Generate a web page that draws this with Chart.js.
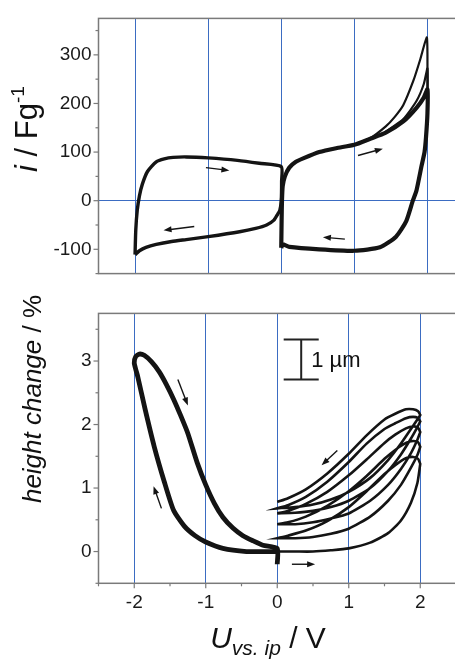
<!DOCTYPE html>
<html>
<head>
<meta charset="utf-8">
<script src="https://cdn.jsdelivr.net/npm/chart.js@4.4.0/dist/chart.umd.min.js"></script>
<style>
  html, body { margin: 0; padding: 0; background: #fff; overflow: hidden; width: 455px; height: 660px; }
  canvas { position: absolute; left: 0; }
  #topChart { top: 0; }
  #bottomChart { top: 295px; }
</style>
</head>
<body>
<canvas id="topChart" width="464" height="292"></canvas>
<canvas id="bottomChart" width="464" height="365"></canvas>
<script>
// axis ticks
const xTicks = [-2.5, -2, -1.5, -1, -0.5, 0, 0.5, 1, 1.5, 2, 2.5];
const topYTicks = [-150, -100, -50, 0, 50, 100, 150, 200, 250, 300, 350];
const bottomYTicks = [-0.5, 0, 0.5, 1, 1.5, 2, 2.5, 3, 3.5];

// top panel: cyclic voltammogram, i / F g^-1
const cvLeftV = [-2.0, -1.99, -1.97, -1.94, -1.90, -1.83, -1.71, -1.60, -1.48, -1.30, -1.00, -0.60, -0.30, 0.0, 0.005, 0.0, -0.02, -0.05, -0.10, -0.20, -0.35, -0.57, -1.00, -1.30, -1.50, -1.71, -1.85, -1.94, -2.0];
const cvLeftI = [-111, -60, -20, 10, 34, 60, 80, 86, 89, 90, 88, 83, 77, 70, 40, 0, -20, -28, -40, -50, -57, -64, -74, -80, -84, -90, -96, -103, -111];

const cvRightV = [0.0, 0.005, 0.01, 0.02, 0.05, 0.11, 0.20, 0.30, 0.52, 0.75, 1.0, 1.21, 1.43, 1.67, 1.85, 1.95, 2.0, 2.0, 1.98, 1.96, 1.92, 1.85, 1.80, 1.71, 1.57, 1.35, 1.0, 0.52, 0.11, 0.02, 0.0];
const cvRightI = [-97, -40, 0, 30, 50, 68, 80, 87, 100, 108, 115, 127, 140, 163, 191, 212, 229, 180, 130, 100, 72, 21, 0, -42, -74, -96, -103, -100, -95, -90, -97];

const cvPeakV = [1.0, 1.21, 1.43, 1.55, 1.67, 1.81, 1.9, 1.99, 2.0, 2.0];
const cvPeakI = [115, 128, 153, 172, 197, 248, 290, 336, 300, 200];
const cvPeak2V = [1.43, 1.67, 1.85, 1.95, 2.0, 2.0];
const cvPeak2I = [142, 168, 205, 240, 272, 200];

// bottom panel: height change / %
const hLeftV = [0.0, -0.2, -0.43, -0.76, -1.0, -1.15, -1.30, -1.45, -1.58, -1.72, -1.85, -1.95, -2.0, -1.98, -1.93, -1.86, -1.76, -1.65, -1.55, -1.45, -1.35, -1.25, -1.12, -1.0, -0.88, -0.76, -0.62, -0.48, -0.34, -0.2, 0.0, 0.0];
const hLeftH = [0.0, 0.0, 0.0, 0.05, 0.15, 0.25, 0.40, 0.65, 1.10, 1.65, 2.25, 2.75, 2.97, 3.07, 3.11, 3.09, 2.99, 2.83, 2.63, 2.40, 2.14, 1.86, 1.40, 1.05, 0.76, 0.54, 0.37, 0.25, 0.17, 0.10, 0.05, -0.2];

// right loops: each cycle goes out on the lower path and back on the upper path
const loopLowerV = [0, 0.25, 0.5, 0.75, 1.0, 1.3, 1.55, 1.73, 1.87, 1.96, 2.0];
const loopLowerH = [
  [0.00, 0.00, 0.00, 0.02, 0.05, 0.14, 0.29, 0.49, 0.77, 1.08, 1.38],
  [0.21, 0.21, 0.23, 0.28, 0.36, 0.55, 0.80, 1.05, 1.32, 1.52, 1.65],
  [0.43, 0.43, 0.46, 0.52, 0.60, 0.80, 1.05, 1.30, 1.55, 1.76, 1.88],
  [0.60, 0.61, 0.64, 0.70, 0.80, 1.00, 1.27, 1.53, 1.78, 1.96, 2.05],
  [0.68, 0.70, 0.74, 0.82, 0.94, 1.16, 1.44, 1.70, 1.93, 2.08, 2.15]
];
const loopUpperV = [2.0, 1.97, 1.9, 1.8, 1.65, 1.5, 1.25, 1.0, 0.7, 0.4, 0.15, 0];
const loopUpperH = [
  [1.38, 1.46, 1.49, 1.47, 1.36, 1.22, 0.95, 0.70, 0.48, 0.33, 0.25, 0.21],
  [1.65, 1.72, 1.74, 1.71, 1.60, 1.46, 1.19, 0.95, 0.72, 0.55, 0.46, 0.43],
  [1.88, 1.95, 1.97, 1.94, 1.84, 1.71, 1.45, 1.20, 0.94, 0.75, 0.64, 0.60],
  [2.05, 2.10, 2.12, 2.10, 2.02, 1.93, 1.70, 1.41, 1.10, 0.86, 0.73, 0.68],
  [2.15, 2.21, 2.24, 2.24, 2.17, 2.08, 1.83, 1.54, 1.23, 0.98, 0.84, 0.78]
];

// sweep direction arrows [x0, y0, x1, y1], head at the second point
const topArrows = [[-1.03, 68, -0.71, 62], [-1.19, -53, -1.61, -61], [1.05, 93, 1.39, 107], [0.87, -79, 0.57, -75]];
const bottomArrows = [[-1.39, 2.71, -1.25, 2.30], [-1.62, 0.68, -1.73, 1.03], [0.205, -0.2, 0.53, -0.2], [0.84, 1.59, 0.62, 1.36]];

// 1 um scale bar (x from, x to, top, bottom)
const scaleBarX = [0.09, 0.58];
const scaleBarH = [3.34, 2.71];
const scaleBarLabel = '1 \u00b5m';

const FONT = "'Liberation Sans', Arial, sans-serif";
const INK = '#141414';
const GRID = '#3b6cc2';
const AXIS = '#7a7a7a';

function pts(xs, ys) {
  return xs.map((x, i) => ({ x: x, y: ys[i] }));
}

function loopPoints() {
  let out = [];
  loopLowerH.forEach((low, k) => {
    out = out.concat(pts(loopLowerV, low), pts(loopUpperV, loopUpperH[k]));
  });
  return out;
}

function line(data, width) {
  return { data: data, showLine: true, borderColor: INK, borderWidth: width, pointRadius: 0, tension: 0.2, fill: false };
}

function drawArrow(ctx, x0, y0, x1, y1) {
  const ang = Math.atan2(y1 - y0, x1 - x0);
  ctx.beginPath();
  ctx.moveTo(x0, y0);
  ctx.lineTo(x1 - 5 * Math.cos(ang), y1 - 5 * Math.sin(ang));
  ctx.stroke();
  ctx.beginPath();
  ctx.moveTo(x1, y1);
  ctx.lineTo(x1 - 8 * Math.cos(ang) + 3 * Math.sin(ang), y1 - 8 * Math.sin(ang) - 3 * Math.cos(ang));
  ctx.lineTo(x1 - 8 * Math.cos(ang) - 3 * Math.sin(ang), y1 - 8 * Math.sin(ang) + 3 * Math.cos(ang));
  ctx.closePath();
  ctx.fill();
}

// text made of pieces with their own font and baseline shift
function drawRich(ctx, parts, x, y, rotate) {
  ctx.save();
  ctx.translate(x, y);
  if (rotate) ctx.rotate(-Math.PI / 2);
  let total = 0;
  parts.forEach(p => { ctx.font = p.font; total += ctx.measureText(p.text).width; });
  let cx = -total / 2;
  ctx.textBaseline = 'alphabetic';
  ctx.textAlign = 'left';
  ctx.fillStyle = '#111';
  parts.forEach(p => {
    ctx.font = p.font;
    ctx.fillText(p.text, cx, p.dy || 0);
    cx += ctx.measureText(p.text).width;
  });
  ctx.restore();
}

function framePlugin(opts) {
  return {
    id: 'frame',
    afterDatasetsDraw(chart) {
      const { ctx, chartArea: a, scales } = chart;
      ctx.save();
      ctx.strokeStyle = AXIS;
      ctx.lineWidth = 1.5;
      ctx.strokeRect(a.left, a.top, a.right - a.left, a.bottom - a.top);
      ctx.lineWidth = 1.2;
      scales.y.ticks.forEach(t => {
        const py = scales.y.getPixelForValue(t.value);
        const len = opts.majorY(t.value) ? 5 : 3;
        ctx.beginPath(); ctx.moveTo(a.left - len, py); ctx.lineTo(a.left, py); ctx.stroke();
      });
      if (opts.xTicks) {
        scales.x.ticks.forEach(t => {
          const px = scales.x.getPixelForValue(t.value);
          const len = Number.isInteger(t.value) ? 5 : 3;
          ctx.beginPath(); ctx.moveTo(px, a.bottom); ctx.lineTo(px, a.bottom + len); ctx.stroke();
        });
      }
      // arrows
      ctx.strokeStyle = INK;
      ctx.fillStyle = INK;
      ctx.lineWidth = 1.4;
      opts.arrows.forEach(ar => {
        drawArrow(ctx, scales.x.getPixelForValue(ar[0]), scales.y.getPixelForValue(ar[1]),
          scales.x.getPixelForValue(ar[2]), scales.y.getPixelForValue(ar[3]));
      });
      if (opts.extra) opts.extra(chart);
      ctx.restore();
      opts.titles(ctx);
    }
  };
}

function gridColor(ctx) {
  const v = ctx.tick.value;
  return Number.isInteger(v) && Math.abs(v) <= 2 ? GRID : 'rgba(0,0,0,0)';
}

const xScale = (showLabels, height) => ({
  type: 'linear', min: -2.5, max: 2.5,
  afterBuildTicks: s => { s.ticks = xTicks.map(v => ({ value: v })); },
  afterFit: s => { s.height = height; },
  border: { display: false },
  grid: { color: gridColor, lineWidth: 1, drawTicks: false },
  ticks: {
    display: showLabels, padding: 8, color: '#1a1a1a', font: { family: FONT, size: 19 },
    callback: v => Number.isInteger(v) ? String(v) : ''
  }
});

const yScale = (min, max, ticks, isMajor, gridFn) => ({
  type: 'linear', min: min, max: max,
  afterBuildTicks: s => { s.ticks = ticks.map(v => ({ value: v })); },
  afterFit: s => { s.width = 98.5; },
  border: { display: false },
  grid: { color: gridFn, lineWidth: 1, drawTicks: false },
  ticks: {
    padding: 7, color: '#1a1a1a', font: { family: FONT, size: 19 },
    callback: v => isMajor(v) ? String(v) : ''
  }
});

new Chart(document.getElementById('topChart'), {
  type: 'scatter',
  data: {
    datasets: [
      line(pts(cvLeftV, cvLeftI), 3.4),
      line(pts(cvPeakV, cvPeakI), 2.2),
      line(pts(cvPeak2V, cvPeak2I), 2.2),
      line(pts(cvRightV, cvRightI), 4.2)
    ]
  },
  options: {
    responsive: false, animation: false,
    layout: { padding: { top: 12.5, bottom: 0, left: 0, right: 0 } },
    plugins: { legend: { display: false }, tooltip: { enabled: false } },
    scales: {
      x: xScale(false, 1.5),
      y: yScale(-150, 375, topYTicks, v => v % 100 === 0, c => c.tick.value === 0 ? GRID : 'rgba(0,0,0,0)')
    }
  },
  plugins: [framePlugin({
    majorY: v => v % 100 === 0,
    xTicks: false,
    arrows: topArrows,
    titles: ctx => drawRich(ctx, [
      { text: 'i', font: 'italic 31px ' + FONT },
      { text: ' / Fg', font: '31px ' + FONT },
      { text: '-1', font: '19px ' + FONT, dy: -13 }
    ], 37, 129, true)
  })]
});

new Chart(document.getElementById('bottomChart'), {
  type: 'scatter',
  data: {
    datasets: [
      line(pts(hLeftV, hLeftH), 4.8),
      line(loopPoints(), 2.6)
    ]
  },
  options: {
    responsive: false, animation: false,
    layout: { padding: { top: 10, bottom: 0, left: 0, right: 0 } },
    plugins: { legend: { display: false }, tooltip: { enabled: false } },
    scales: {
      x: xScale(true, 76.7),
      y: yScale(-0.5, 3.75, bottomYTicks, v => Number.isInteger(v), () => 'rgba(0,0,0,0)')
    }
  },
  plugins: [framePlugin({
    majorY: v => Number.isInteger(v),
    xTicks: true,
    arrows: bottomArrows,
    extra: chart => {
      const { ctx, scales } = chart;
      const xl = scales.x.getPixelForValue(scaleBarX[0]);
      const xr = scales.x.getPixelForValue(scaleBarX[1]);
      const xm = (xl + xr) / 2;
      const yt = scales.y.getPixelForValue(scaleBarH[0]);
      const yb = scales.y.getPixelForValue(scaleBarH[1]);
      ctx.strokeStyle = '#222';
      ctx.lineWidth = 2;
      ctx.beginPath();
      ctx.moveTo(xl, yt); ctx.lineTo(xr, yt);
      ctx.moveTo(xm, yt); ctx.lineTo(xm, yb);
      ctx.moveTo(xl, yb); ctx.lineTo(xr, yb);
      ctx.stroke();
      ctx.fillStyle = '#111';
      ctx.font = '22px ' + FONT;
      ctx.textBaseline = 'middle';
      ctx.textAlign = 'left';
      ctx.fillText(scaleBarLabel, xm + 10, (yt + yb) / 2 + 1);
    },
    titles: ctx => {
      drawRich(ctx, [
        { text: 'height change', font: 'italic 26px ' + FONT },
        { text: ' / %', font: '26px ' + FONT }
      ], 41, 104, true);
      drawRich(ctx, [
        { text: 'U', font: 'italic 30px ' + FONT },
        { text: 'vs. ip', font: 'italic 21px ' + FONT, dy: 7 },
        { text: ' / V', font: '30px ' + FONT }
      ], 268, 353, false);
    }
  })]
});
</script>
</body>
</html>
